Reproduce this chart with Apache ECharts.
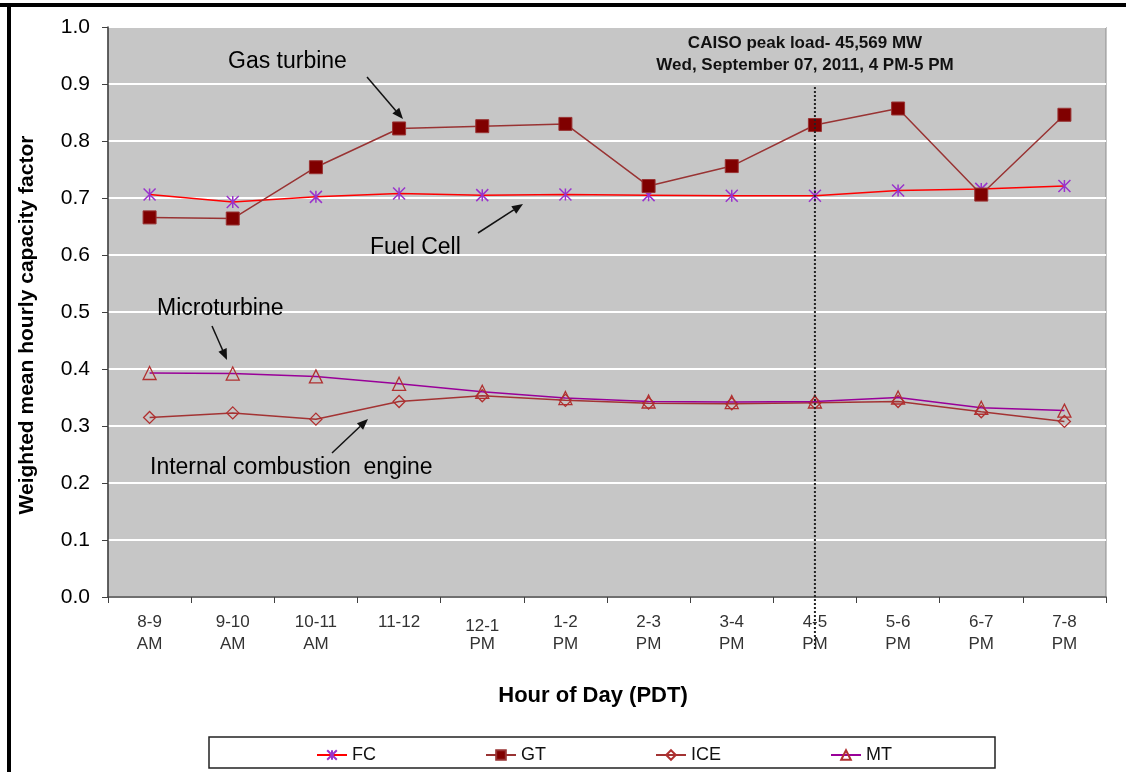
<!DOCTYPE html>
<html>
<head>
<meta charset="utf-8">
<title>Weighted mean hourly capacity factor</title>
<script src="https://cdn.jsdelivr.net/npm/echarts@6/dist/echarts.min.js"></script>
<style>
  html, body { margin: 0; padding: 0; background: #fff; }
  #chart { width: 1126px; height: 772px; }
</style>
</head>
<body>
<div id="chart"></div>
<script type="text/javascript">

// hour of day (PDT)
var hours = ['8-9\nAM', '9-10\nAM', '10-11\nAM', '11-12', '12-1\nPM', '1-2\nPM',
             '2-3\nPM', '3-4\nPM', '4-5\nPM', '5-6\nPM', '6-7\nPM', '7-8\nPM'];

// weighted mean hourly capacity factor
var fcData  = [0.706, 0.693, 0.702, 0.708, 0.705, 0.706, 0.705, 0.704, 0.704, 0.713, 0.716, 0.721];
var gtData  = [0.666, 0.664, 0.754, 0.822, 0.826, 0.830, 0.721, 0.756, 0.828, 0.857, 0.706, 0.846];
var iceData = [0.315, 0.323, 0.312, 0.343, 0.353, 0.345, 0.340, 0.339, 0.341, 0.343, 0.325, 0.308];
var mtData  = [0.393, 0.392, 0.387, 0.374, 0.360, 0.349, 0.343, 0.342, 0.343, 0.350, 0.332, 0.327];

var yTicks = [0, 1, 0.1];   // min, max, step
var peakHour = '4-5\nPM';

var FONT = "'Liberation Sans', Arial, sans-serif";

var chart = echarts.init(document.getElementById('chart'));

// asterisk marker like excel's star (X + vertical bar)
var starPath = 'path://M0,0L10,10M10,0L0,10M5,0L5,10';

// small helper: arrow as line + filled head
function arrow(x1, y1, x2, y2) {
    var ang = Math.atan2(y2 - y1, x2 - x1);
    var len = 11, half = 4.5;
    var bx = x2 - len * Math.cos(ang), by = y2 - len * Math.sin(ang);
    var px = -Math.sin(ang) * half, py = Math.cos(ang) * half;
    return [
        { type: 'line', shape: { x1: x1, y1: y1, x2: bx, y2: by }, style: { stroke: '#111', lineWidth: 1.5 }, z: 50 },
        { type: 'polygon', shape: { points: [[x2, y2], [bx + px, by + py], [bx - px, by - py]] }, style: { fill: '#111' }, z: 50 }
    ];
}

function note(text, x, y, extra) {
    return {
        type: 'text', z: 50,
        style: Object.assign({
            text: text, x: x, y: y, fill: '#000',
            font: '23px ' + FONT, textAlign: 'left', textVerticalAlign: 'middle'
        }, extra || {})
    };
}

var option = {
    animation: false,
    backgroundColor: '#fff',
    grid: { left: 108, right: 20, top: 27, bottom: 175, show: true, backgroundColor: '#c6c6c6', borderColor: '#8c8c8c', borderWidth: 1 },
    legend: {
        left: 311, top: 741, itemGap: 109, itemWidth: 30, itemHeight: 12,
        textStyle: { fontFamily: FONT, fontSize: 18, color: '#111' },
        data: ['FC', 'GT', 'ICE', 'MT']
    },
    xAxis: {
        type: 'category',
        data: hours,
        boundaryGap: true,
        axisLine: { lineStyle: { color: '#404040', width: 1.5 } },
        axisTick: { show: true, length: 6, interval: 0, lineStyle: { color: '#404040' } },
        axisLabel: {
            interval: 0,
            fontFamily: FONT, fontSize: 17, color: '#333', lineHeight: 22, margin: 14,
            formatter: function (v) {
                var parts = v.split('\n');
                if (v.indexOf('12-1') === 0) {
                    return '{low|' + parts[0] + '}\n{low2|' + parts[1] + '}';
                }
                return v;
            },
            rich: {
                low:  { fontFamily: FONT, fontSize: 17, color: '#333', lineHeight: 22, padding: [8, 0, 0, 0] },
                low2: { fontFamily: FONT, fontSize: 17, color: '#333', lineHeight: 22 }
            }
        },
        name: 'Hour of Day (PDT)',
        nameLocation: 'middle',
        nameGap: 88,
        nameTextStyle: { fontFamily: FONT, fontSize: 22, fontWeight: 'bold', color: '#000', padding: [0, 28, 0, 0] }
    },
    yAxis: {
        type: 'value',
        min: yTicks[0], max: yTicks[1], interval: yTicks[2],
        axisLine: { show: true, lineStyle: { color: '#404040', width: 1.5 } },
        axisTick: { show: true, length: 6, lineStyle: { color: '#404040' } },
        splitLine: { lineStyle: { color: '#ffffff', width: 2 } },
        axisLabel: {
            fontFamily: FONT, fontSize: 21, color: '#000', margin: 18,
            formatter: function (v) { return v.toFixed(1); }
        }
    },
    series: [
        {
            name: 'FC', type: 'line', data: fcData,
            symbol: starPath, symbolSize: 12,
            lineStyle: { color: '#ff0000', width: 1.5 },
            itemStyle: { color: 'rgba(0,0,0,0)', borderColor: '#9933cc', borderWidth: 1.5 },
            z: 3
        },
        {
            name: 'GT', type: 'line', data: gtData,
            symbol: 'rect', symbolSize: 13,
            lineStyle: { color: '#993333', width: 1.5 },
            itemStyle: { color: '#800000', borderColor: '#993333', borderWidth: 1 },
            z: 4
        },
        {
            name: 'ICE', type: 'line', data: iceData,
            symbol: 'diamond', symbolSize: 12,
            lineStyle: { color: '#a33333', width: 1.5 },
            itemStyle: { color: 'rgba(0,0,0,0)', borderColor: '#b03030', borderWidth: 1.3 },
            z: 3
        },
        {
            name: 'MT', type: 'line', data: mtData,
            symbol: 'triangle', symbolSize: 13,
            lineStyle: { color: '#990099', width: 1.5 },
            itemStyle: { color: 'rgba(0,0,0,0)', borderColor: '#b03030', borderWidth: 1.3 },
            z: 4
        }
    ]
};

chart.setOption(option);

// x pixel of the peak hour for the dotted marker
var peakX = chart.convertToPixel({ xAxisIndex: 0 }, peakHour);

var graphics = [
    // outer frame
    { type: 'rect', shape: { x: 0, y: 3, width: 1126, height: 4 }, style: { fill: '#000' }, z: 60 },
    { type: 'rect', shape: { x: 7, y: 3, width: 4, height: 769 }, style: { fill: '#000' }, z: 60 },
    // legend box
    { type: 'rect', shape: { x: 209, y: 737, width: 786, height: 31 }, style: { fill: 'none', stroke: '#222', lineWidth: 1.5 }, z: 1 },
    // y axis title
    {
        type: 'text', z: 50, x: 27, y: 325, rotation: Math.PI / 2,
        style: {
            text: 'Weighted mean hourly capacity factor', fill: '#000',
            font: 'bold 21px ' + FONT, textAlign: 'center', textVerticalAlign: 'middle'
        }
    },
    // peak hour marker
    { type: 'line', shape: { x1: peakX, y1: 87, x2: peakX, y2: 650 }, style: { stroke: '#222', lineWidth: 2, lineDash: [2, 2] }, z: 20 },
    {
        type: 'text', z: 50,
        style: {
            text: 'CAISO peak load- 45,569 MW\nWed, September 07, 2011, 4 PM-5 PM',
            x: 805, y: 54, fill: '#111', font: 'bold 17px ' + FONT, lineHeight: 22,
            textAlign: 'center', textVerticalAlign: 'middle'
        }
    },
    note('Gas turbine', 228, 62),
    note('Fuel Cell', 370, 248),
    note('Microturbine', 157, 309),
    note('Internal combustion  engine', 150, 468)
];
graphics = graphics
    .concat(arrow(367, 77, 403, 119))
    .concat(arrow(478, 233, 523, 204))
    .concat(arrow(212, 326, 227, 360))
    .concat(arrow(332, 453, 368, 419));

chart.setOption({ graphic: graphics });

</script>
</body>
</html>
